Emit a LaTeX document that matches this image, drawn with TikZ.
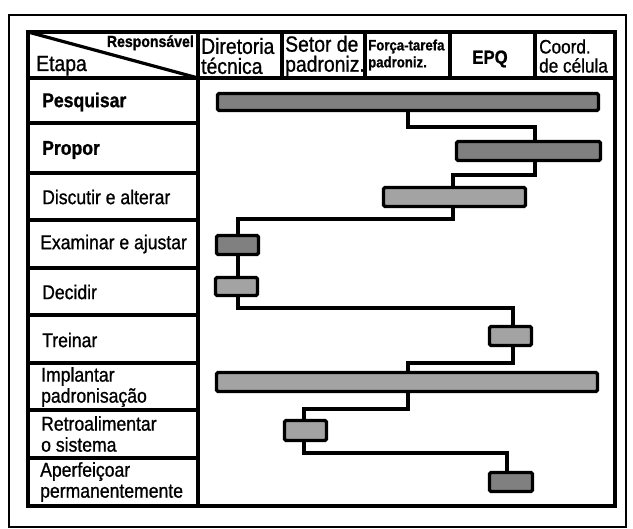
\documentclass[tikz,border=0pt]{standalone}
\usepackage{fontspec}
\setmainfont{Liberation Sans}[FakeStretch=0.88, FakeBold=0.9]
\definecolor{bardark}{gray}{0.5}
\definecolor{barlight}{gray}{0.64}
\begin{document}
\begin{tikzpicture}[x=1pt,y=-1pt,
  gridline/.style={line width=3.8pt},
  bar/.style={draw=black, line width=3.4pt, rounded corners=1.5pt, inner sep=0pt, fill=barlight},
  conn/.style={line width=3.4pt, line join=miter},
  lab/.style={anchor=west, inner sep=0pt, align=left, font=\fontsize{20}{21}\selectfont},
  hd/.style={anchor=west, inner sep=0pt, align=left, font=\fontsize{22}{20}\selectfont}]
\useasboundingbox (0,0) rectangle (633,529);
\fill[white] (0,0) rectangle (633,529);
% outer frame
\draw[line width=2.6pt] (9,15) rectangle (626,527);
% table
\draw[gridline] (28,32) rectangle (615,506);
\draw[gridline] (28,78) -- (615,78);
\draw[gridline] (198,32) -- (198,506);
\foreach \x in {282,365,450,535} \draw[gridline] (\x,32) -- (\x,78);
\foreach \y in {123,173,220,268,315,363,410,458} \draw[gridline] (28,\y) -- (198,\y);
\draw[line width=3.2pt] (28,32) -- (198,78);
% header texts
\node[anchor=base east, inner sep=0pt, font=\fontsize{16}{16}\selectfont\bfseries] (resp) at (194,47) {Responsável};
\node[anchor=base west, inner sep=0pt, font=\fontsize{22}{22}\selectfont] (etapa) at (36,71) {Etapa};
\node[hd] (dir) at (201,56) {Diretoria\\técnica};
\node[hd] (setor) at (285,56) {Setor de\\padroniz.};
\node[anchor=west, inner sep=0pt, align=left, font=\fontsize{15}{17}\selectfont\bfseries] (forca) at (368,55) {Força-tarefa\\padroniz.};
\node[inner sep=0pt, font=\fontsize{19}{19}\selectfont\bfseries] (epq) at (490,59) {EPQ};
\node[anchor=west, inner sep=0pt, align=left, font=\fontsize{19.5}{19}\selectfont] (coord) at (539,56) {Coord.\\de célula};
% row labels
\node[lab, font=\fontsize{20}{21}\selectfont\bfseries] (lpesq) at (42,102) {Pesquisar};
\node[lab, font=\fontsize{20}{21}\selectfont\bfseries] (lprop) at (42,150) {Propor};
\node[lab] (ldisc) at (42,197) {Discutir e alterar};
\node[lab] (lexam) at (40,244) {Examinar e ajustar};
\node[lab] (ldec) at (42,292) {Decidir};
\node[lab] (ltrein) at (42,340) {Treinar};
\node[lab] (limpl) at (41,387) {Implantar\\padronisação};
\node[lab] (lretro) at (41,434) {Retroalimentar\\o sistema};
\node[lab] (laperf) at (40,482) {Aperfeiçoar\\permanentemente};
% bars
\node[bar, fill=bardark, minimum width=381pt, minimum height=17pt] (pesq) at (408,102) {};
\node[bar, fill=bardark, minimum width=144pt, minimum height=19pt] (prop) at (528.5,151) {};
\node[bar, minimum width=142pt, minimum height=19pt] (disc) at (454.5,197) {};
\node[bar, fill=bardark, minimum width=42pt, minimum height=19pt] (exam) at (237.5,245) {};
\node[bar, minimum width=42pt, minimum height=18pt] (dec) at (236.5,286.5) {};
\node[bar, minimum width=42pt, minimum height=19pt] (trein) at (510.5,336) {};
\node[bar, minimum width=381pt, minimum height=19pt] (impl) at (407,382) {};
\node[bar, minimum width=42pt, minimum height=20pt] (retro) at (305.5,430.5) {};
\node[bar, fill=bardark, minimum width=43pt, minimum height=19pt] (aperf) at (511,482) {};
% connector junctions
\coordinate (s1) at (408,127); \coordinate (h1) at (535,127);
\coordinate (s2) at (535,175); \coordinate (h2) at (453,175);
\coordinate (s3) at (453,219); \coordinate (h3) at (238,219);
\coordinate (s4) at (238,0);
\coordinate (s5) at (238,308); \coordinate (h5) at (513,308);
\coordinate (s6) at (513,363); \coordinate (h6) at (408,363);
\coordinate (s7) at (408,409); \coordinate (h7) at (304,409);
\coordinate (s8) at (304,453); \coordinate (h8) at (507,453);
% connectors
\draw[conn] (pesq.south -| s1) -- (s1) -- (h1) -- (prop.north -| h1);
\draw[conn] (prop.south -| s2) -- (s2) -- (h2) -- (disc.north -| h2);
\draw[conn] (disc.south -| s3) -- (s3) -- (h3) -- (exam.north -| h3);
\draw[conn] (exam.south -| s4) -- (dec.north -| s4);
\draw[conn] (dec.south -| s5) -- (s5) -- (h5) -- (trein.north -| h5);
\draw[conn] (trein.south -| s6) -- (s6) -- (h6) -- (impl.north -| h6);
\draw[conn] (impl.south -| s7) -- (s7) -- (h7) -- (retro.north -| h7);
\draw[conn] (retro.south -| s8) -- (s8) -- (h8) -- (aperf.north -| h8);
\end{tikzpicture}
\end{document}
